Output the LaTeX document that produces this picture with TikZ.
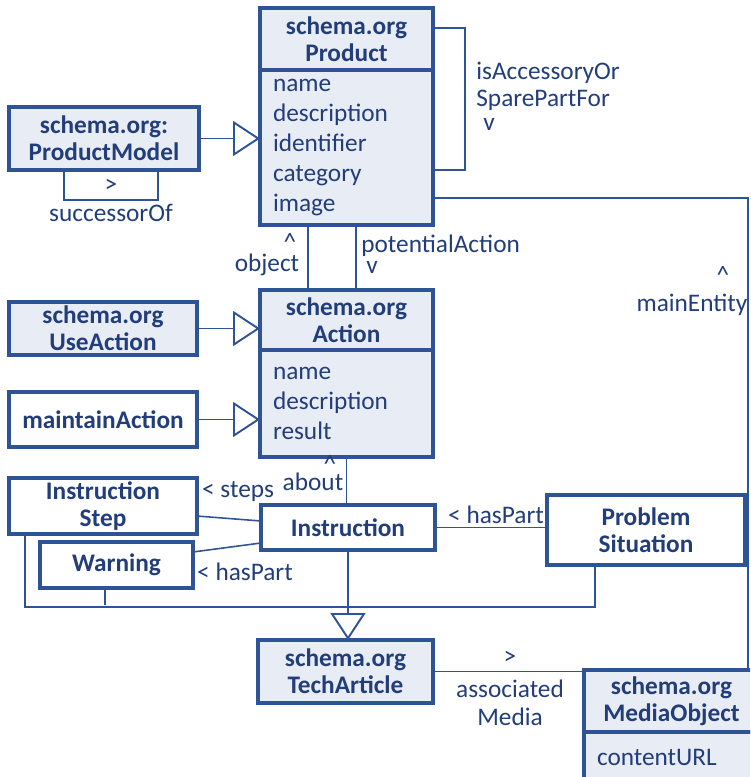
\documentclass[tikz,border=0pt]{standalone}
\usepackage{fontspec}
\setmainfont{Carlito}
\usetikzlibrary{positioning,arrows.meta}
\definecolor{umlline}{RGB}{47,84,150}
\definecolor{umltext}{RGB}{34,62,122}
\definecolor{umlfill}{RGB}{232,236,245}

\begin{document}
\begin{tikzpicture}[x=0.02cm, y=-0.02cm,
    every node/.style={text=umltext, font=\fontsize{14.4}{17}\selectfont},
    cls/.style={draw=umlline, line width=2pt, outer sep=0pt, inner sep=2pt,
      anchor=north west, align=center, font=\bfseries\fontsize{14.4}{15.5}\selectfont},
    hdr/.style={cls, fill=umlfill},
    box/.style={cls, fill=white},
    attrs/.style={draw=umlline, line width=2pt, outer sep=0pt, fill=umlfill,
      align=left, inner xsep=0.26cm, font=\fontsize{14.4}{17}\selectfont},
    rel/.style={draw=umlline, line width=0.9pt},
    gen/.style={rel, -{Triangle[open, length=0.54cm, width=0.7cm, line width=1.1pt]}},
    lbl/.style={inner sep=0pt}]
\useasboundingbox (0,0) rectangle (750,777);
\clip (0,0) rectangle (750,777);

% classes
\node[hdr, minimum width=3.46cm, minimum height=1.24cm] (prodH) at (260,8) {schema.org\\Product};
\node[attrs, below=0pt of prodH, text width=2.94cm, minimum height=3.1cm] (prodB) {name\\description\\identifier\\category\\image};
\node[hdr, minimum width=3.8cm, minimum height=1.26cm] (pmodel) at (9,107) {schema.org:\\ProductModel};
\node[hdr, minimum width=3.46cm, minimum height=1.2cm] (actH) at (260,290) {schema.org\\Action};
\node[attrs, below=0pt of actH, text width=2.94cm, minimum height=2.14cm] (actB) {name\\description\\result};
\node[hdr, minimum width=3.76cm, minimum height=1.06cm] (useAct) at (9,302) {schema.org\\UseAction};
\node[box, minimum width=3.76cm, minimum height=1.1cm] (maintAct) at (9,392) {maintainAction};
\node[box, minimum width=3.76cm, minimum height=1.08cm] (instStep) at (9,478) {Instruction\\Step};
\node[box, minimum width=3.06cm, minimum height=0.92cm] (warning) at (40,542) {Warning};
\node[box, minimum width=3.48cm, minimum height=0.9cm] (instr) at (261,505) {Instruction};
\node[box, minimum width=3.96cm, minimum height=1.4cm] (probSit) at (547,495) {Problem\\Situation};
\node[hdr, minimum width=3.5cm, minimum height=1.26cm] (techArt) at (258,640) {schema.org\\TechArticle};
\node[hdr, minimum width=3.5cm, minimum height=1.24cm] (media) at (584,670) {schema.org\\MediaObject};
\node[attrs, below=0pt of media, text width=2.98cm, minimum height=1.0cm] (mediaB) {contentURL};

% product relations
\draw[gen] (pmodel.east) -- (pmodel.east -| prodB.west);
\draw[rel] ([xshift=-0.8cm]pmodel.south) -- ++(0,30) -| ([xshift=1.08cm]pmodel.south); % successorOf
\node[lbl] at (111,186) {>};
\node[lbl] at (111,213) {successorOf};
\draw[rel] ([yshift=-0.4cm]prodH.north east) -- ++(32,0) |- ([yshift=1.1cm]prodB.south east); % isAccessoryOrSparePartFor
\node[lbl, anchor=west] at (476,73) {isAccessoryOr};
\node[lbl, anchor=west] at (476,100) {SparePartFor};
\node[lbl] at (489,124) {v};
\draw[rel] ([yshift=0.54cm]prodB.south east) -| ([xshift=-0.22cm]media.north east); % mainEntity
\node[lbl] at (723,275) {\textasciicircum};
\node[lbl] at (692,305) {mainEntity};
\draw[rel] ([xshift=-0.77cm]prodB.south) -- ([xshift=-0.77cm]actH.north); % object
\node[lbl] at (290,242) {\textasciicircum};
\node[lbl] at (267,265) {object};
\draw[rel] ([xshift=0.19cm]prodB.south) -- ([xshift=0.19cm]actH.north); % potentialAction
\node[lbl, anchor=west] at (361,246) {potentialAction};
\node[lbl] at (372,267) {v};

% action relations
\draw[gen] (useAct.east) -- (useAct.east -| actH.west);
\draw[gen] (maintAct.east) -- (maintAct.east -| actB.west);
\draw[rel] (actB.south) -- (actB.south |- instr.north); % about
\node[lbl] at (330,464) {\textasciicircum};
\node[lbl] at (313,482) {about};

% instruction parts
\draw[rel] ([yshift=-0.2cm]instStep.east) -- ([yshift=0.13cm]instr.west); % steps
\node[lbl] at (238,492) {< steps};
\draw[rel] ([yshift=0.26cm]warning.east) -- ([yshift=-0.31cm]instr.west); % hasPart
\node[lbl] at (245,572) {< hasPart};
\draw[rel] (instr.east) -- (instr.east -| probSit.west); % hasPart
\node[lbl] at (496,515) {< hasPart};

% tech article
\draw[rel] ([xshift=-1.56cm]instStep.south) -- ++(0,73) -| ([xshift=-1.02cm]probSit.south);
\draw[rel] ([xshift=-0.23cm]warning.south) -- ++(0,17);
\draw[gen] (instr.south) -- (instr.south |- techArt.north);
\draw[rel] (techArt.east) -- (techArt.east -| media.west); % associatedMedia
\node[lbl] at (510,658) {>};
\node[lbl] at (510,689) {associated};
\node[lbl] at (510,717) {Media};
\end{tikzpicture}
\end{document}
